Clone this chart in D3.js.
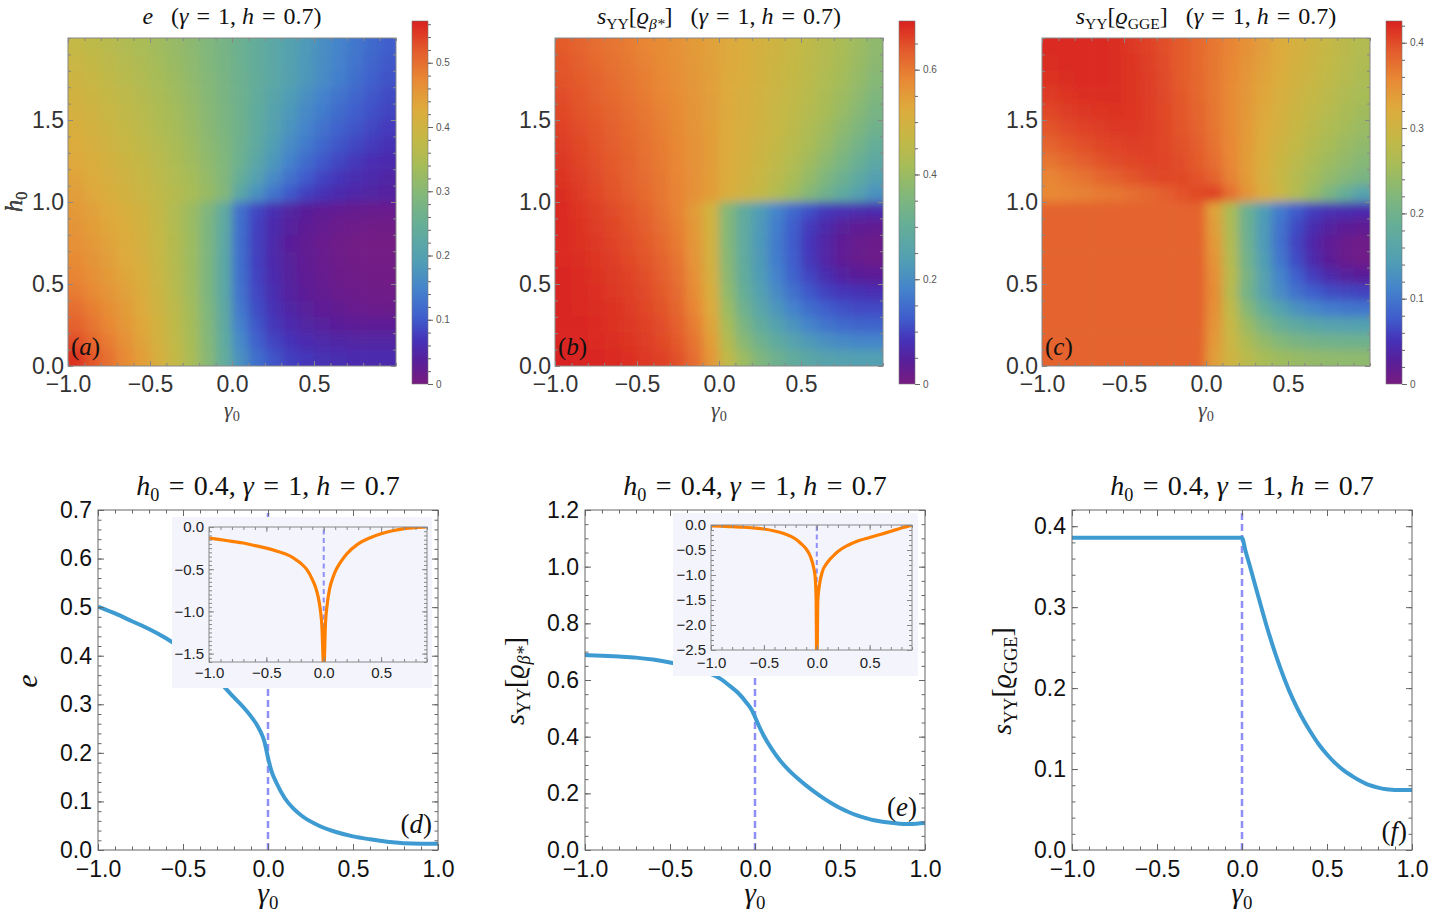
<!DOCTYPE html>
<html>
<head>
<meta charset="utf-8">
<script src="https://d3js.org/d3.v7.min.js"></script>
<style>
  body { margin: 0; background: #fff; }
  svg { display: block; }
</style>
</head>
<body>
<svg id="fig" width="1432" height="918"></svg>
<script>

// ---- heat map grids: cell centres (gamma0 left->right, h0 top->bottom) ----
const gammaCells = [-0.95,-0.85,-0.75,-0.65,-0.55,-0.45,-0.35,-0.25,-0.15,-0.05,0.05,0.15,0.25,0.35,0.45,0.55,0.65,0.75,0.85,0.95];
const hCells = [1.95,1.85,1.75,1.65,1.55,1.45,1.35,1.25,1.15,1.05,0.95,0.85,0.75,0.65,0.55,0.45,0.35,0.25,0.15,0.05];

// (a) e
const gridA = [
  [0.382,0.373,0.364,0.354,0.344,0.333,0.320,0.307,0.292,0.276,0.258,0.240,0.221,0.202,0.184,0.166,0.149,0.133,0.118,0.104],
  [0.389,0.380,0.370,0.360,0.349,0.337,0.324,0.310,0.294,0.277,0.259,0.240,0.221,0.202,0.183,0.164,0.146,0.129,0.113,0.099],
  [0.396,0.386,0.376,0.365,0.354,0.341,0.328,0.313,0.297,0.279,0.260,0.241,0.221,0.201,0.181,0.161,0.142,0.124,0.108,0.094],
  [0.403,0.393,0.382,0.371,0.359,0.346,0.332,0.316,0.299,0.281,0.262,0.239,0.214,0.190,0.168,0.147,0.129,0.113,0.099,0.088],
  [0.410,0.399,0.388,0.376,0.364,0.350,0.336,0.320,0.302,0.283,0.262,0.236,0.208,0.182,0.159,0.138,0.120,0.105,0.093,0.083],
  [0.417,0.406,0.394,0.382,0.369,0.355,0.340,0.324,0.305,0.286,0.263,0.233,0.202,0.174,0.149,0.127,0.109,0.095,0.084,0.075],
  [0.424,0.412,0.400,0.388,0.375,0.361,0.345,0.328,0.309,0.289,0.262,0.228,0.193,0.162,0.136,0.114,0.097,0.084,0.074,0.066],
  [0.431,0.419,0.407,0.394,0.380,0.366,0.350,0.333,0.313,0.292,0.258,0.218,0.180,0.147,0.120,0.099,0.084,0.072,0.063,0.057],
  [0.438,0.426,0.413,0.400,0.386,0.371,0.355,0.338,0.318,0.294,0.245,0.200,0.160,0.127,0.102,0.083,0.070,0.060,0.053,0.048],
  [0.445,0.432,0.419,0.405,0.391,0.376,0.360,0.343,0.323,0.295,0.220,0.170,0.130,0.100,0.080,0.066,0.057,0.050,0.045,0.042],
  [0.452,0.441,0.429,0.417,0.402,0.379,0.354,0.326,0.290,0.232,0.125,0.085,0.060,0.045,0.035,0.028,0.023,0.020,0.018,0.017],
  [0.458,0.446,0.434,0.421,0.405,0.381,0.355,0.326,0.288,0.228,0.122,0.080,0.056,0.040,0.030,0.022,0.016,0.012,0.010,0.009],
  [0.464,0.452,0.439,0.425,0.409,0.384,0.357,0.327,0.287,0.225,0.121,0.078,0.053,0.036,0.025,0.017,0.011,0.007,0.005,0.005],
  [0.471,0.458,0.444,0.430,0.413,0.387,0.359,0.328,0.287,0.223,0.122,0.079,0.054,0.037,0.026,0.018,0.012,0.008,0.006,0.006],
  [0.478,0.464,0.450,0.435,0.417,0.390,0.361,0.329,0.287,0.222,0.124,0.081,0.056,0.039,0.028,0.020,0.014,0.010,0.008,0.008],
  [0.487,0.472,0.457,0.441,0.422,0.394,0.364,0.331,0.288,0.223,0.127,0.084,0.059,0.042,0.031,0.023,0.017,0.013,0.011,0.010],
  [0.500,0.484,0.467,0.449,0.428,0.400,0.370,0.335,0.292,0.227,0.134,0.090,0.065,0.048,0.037,0.029,0.023,0.019,0.016,0.015],
  [0.512,0.494,0.475,0.455,0.433,0.404,0.373,0.338,0.295,0.231,0.143,0.097,0.072,0.056,0.046,0.039,0.034,0.031,0.030,0.030],
  [0.530,0.507,0.485,0.463,0.439,0.409,0.377,0.341,0.298,0.236,0.156,0.108,0.083,0.068,0.058,0.052,0.048,0.046,0.045,0.045],
  [0.552,0.522,0.496,0.471,0.446,0.415,0.381,0.344,0.301,0.241,0.170,0.122,0.095,0.080,0.070,0.064,0.060,0.058,0.057,0.057]
];

// (b) s_YY[rho_beta*]
const gridB = [
  [0.635,0.625,0.615,0.605,0.595,0.585,0.575,0.565,0.553,0.542,0.528,0.515,0.502,0.488,0.473,0.457,0.440,0.422,0.402,0.380],
  [0.640,0.630,0.620,0.610,0.600,0.589,0.578,0.567,0.555,0.543,0.528,0.514,0.500,0.485,0.470,0.454,0.437,0.418,0.397,0.375],
  [0.645,0.635,0.625,0.615,0.604,0.593,0.582,0.570,0.557,0.544,0.527,0.513,0.498,0.483,0.467,0.450,0.432,0.412,0.390,0.367],
  [0.650,0.640,0.630,0.620,0.609,0.597,0.585,0.572,0.559,0.545,0.526,0.511,0.496,0.480,0.463,0.445,0.426,0.404,0.380,0.355],
  [0.655,0.645,0.635,0.624,0.613,0.601,0.589,0.575,0.561,0.546,0.525,0.510,0.494,0.477,0.459,0.440,0.418,0.394,0.368,0.340],
  [0.660,0.650,0.640,0.629,0.617,0.605,0.592,0.578,0.563,0.547,0.524,0.508,0.491,0.473,0.453,0.432,0.408,0.381,0.352,0.322],
  [0.665,0.655,0.644,0.633,0.621,0.609,0.595,0.581,0.565,0.548,0.523,0.506,0.488,0.468,0.446,0.422,0.395,0.365,0.333,0.300],
  [0.670,0.659,0.648,0.637,0.625,0.612,0.598,0.583,0.566,0.548,0.521,0.503,0.483,0.461,0.436,0.408,0.378,0.345,0.310,0.275],
  [0.675,0.664,0.652,0.640,0.628,0.615,0.600,0.585,0.567,0.548,0.519,0.499,0.476,0.451,0.422,0.390,0.355,0.318,0.281,0.245],
  [0.680,0.668,0.656,0.644,0.631,0.617,0.602,0.586,0.568,0.548,0.515,0.492,0.466,0.436,0.402,0.365,0.326,0.287,0.249,0.210],
  [0.682,0.673,0.663,0.652,0.640,0.625,0.608,0.587,0.551,0.496,0.365,0.290,0.232,0.184,0.143,0.112,0.090,0.078,0.072,0.070],
  [0.683,0.676,0.667,0.657,0.645,0.631,0.614,0.592,0.554,0.496,0.365,0.285,0.225,0.173,0.128,0.092,0.065,0.046,0.034,0.030],
  [0.684,0.678,0.670,0.661,0.650,0.637,0.620,0.598,0.558,0.498,0.365,0.285,0.224,0.170,0.124,0.087,0.058,0.036,0.022,0.017],
  [0.685,0.680,0.673,0.665,0.655,0.643,0.626,0.604,0.563,0.502,0.370,0.288,0.226,0.172,0.126,0.088,0.058,0.036,0.022,0.016],
  [0.686,0.682,0.676,0.669,0.660,0.648,0.632,0.610,0.569,0.508,0.375,0.293,0.232,0.180,0.136,0.101,0.074,0.055,0.044,0.040],
  [0.687,0.683,0.679,0.672,0.664,0.653,0.637,0.616,0.576,0.516,0.385,0.305,0.246,0.196,0.154,0.122,0.100,0.086,0.079,0.077],
  [0.688,0.685,0.681,0.676,0.668,0.657,0.643,0.622,0.585,0.526,0.400,0.322,0.266,0.220,0.180,0.150,0.128,0.114,0.107,0.105],
  [0.689,0.687,0.683,0.678,0.671,0.662,0.649,0.630,0.595,0.537,0.420,0.345,0.292,0.250,0.213,0.183,0.160,0.145,0.137,0.135],
  [0.689,0.688,0.685,0.681,0.675,0.667,0.655,0.638,0.605,0.548,0.440,0.370,0.322,0.285,0.252,0.226,0.206,0.193,0.186,0.184],
  [0.690,0.689,0.687,0.684,0.679,0.672,0.662,0.646,0.615,0.560,0.460,0.400,0.355,0.320,0.292,0.270,0.255,0.245,0.240,0.238]
];

// (c) s_YY[rho_GGE]
const gridC = [
  [0.420,0.421,0.421,0.420,0.417,0.412,0.406,0.398,0.390,0.380,0.370,0.360,0.348,0.335,0.322,0.310,0.298,0.287,0.277,0.268],
  [0.418,0.420,0.421,0.420,0.418,0.413,0.407,0.399,0.390,0.380,0.369,0.358,0.345,0.333,0.320,0.308,0.296,0.285,0.275,0.265],
  [0.415,0.418,0.420,0.420,0.418,0.414,0.408,0.400,0.391,0.381,0.369,0.356,0.343,0.330,0.317,0.305,0.293,0.282,0.271,0.262],
  [0.410,0.414,0.417,0.418,0.417,0.414,0.409,0.401,0.392,0.382,0.369,0.355,0.341,0.327,0.313,0.300,0.288,0.277,0.266,0.257],
  [0.403,0.408,0.412,0.414,0.415,0.413,0.409,0.402,0.393,0.383,0.370,0.355,0.340,0.325,0.310,0.296,0.283,0.271,0.260,0.251],
  [0.395,0.401,0.406,0.409,0.411,0.411,0.408,0.403,0.395,0.385,0.371,0.355,0.339,0.322,0.306,0.291,0.277,0.265,0.254,0.244],
  [0.385,0.392,0.398,0.403,0.406,0.408,0.407,0.403,0.397,0.388,0.373,0.356,0.338,0.319,0.301,0.285,0.270,0.257,0.245,0.235],
  [0.372,0.380,0.388,0.395,0.400,0.403,0.405,0.404,0.399,0.391,0.377,0.358,0.337,0.316,0.296,0.278,0.262,0.248,0.236,0.225],
  [0.360,0.366,0.373,0.381,0.388,0.395,0.400,0.403,0.402,0.396,0.385,0.362,0.338,0.313,0.291,0.271,0.253,0.237,0.223,0.211],
  [0.356,0.359,0.362,0.366,0.370,0.375,0.381,0.388,0.396,0.402,0.405,0.375,0.345,0.318,0.293,0.268,0.242,0.214,0.185,0.155],
  [0.385,0.385,0.385,0.385,0.385,0.385,0.385,0.385,0.385,0.385,0.330,0.260,0.195,0.143,0.104,0.076,0.058,0.048,0.045,0.044],
  [0.385,0.385,0.385,0.385,0.385,0.385,0.385,0.385,0.385,0.385,0.335,0.262,0.195,0.140,0.097,0.066,0.045,0.032,0.024,0.020],
  [0.385,0.385,0.385,0.385,0.385,0.385,0.385,0.385,0.385,0.385,0.340,0.266,0.197,0.140,0.095,0.062,0.038,0.022,0.012,0.008],
  [0.385,0.385,0.385,0.385,0.385,0.385,0.385,0.385,0.385,0.385,0.345,0.270,0.202,0.145,0.100,0.066,0.041,0.024,0.013,0.008],
  [0.385,0.385,0.385,0.385,0.385,0.385,0.385,0.385,0.385,0.385,0.350,0.275,0.210,0.155,0.112,0.080,0.057,0.041,0.031,0.027],
  [0.385,0.385,0.385,0.385,0.385,0.385,0.385,0.385,0.385,0.385,0.352,0.272,0.205,0.155,0.120,0.095,0.078,0.068,0.063,0.061],
  [0.385,0.385,0.385,0.385,0.385,0.385,0.385,0.385,0.385,0.385,0.350,0.282,0.225,0.183,0.152,0.130,0.115,0.105,0.100,0.098],
  [0.385,0.385,0.385,0.385,0.385,0.385,0.385,0.385,0.385,0.385,0.345,0.290,0.245,0.212,0.188,0.172,0.161,0.154,0.150,0.149],
  [0.385,0.385,0.385,0.385,0.385,0.385,0.385,0.385,0.385,0.385,0.340,0.295,0.262,0.238,0.222,0.211,0.204,0.200,0.198,0.197],
  [0.385,0.385,0.385,0.385,0.385,0.385,0.385,0.385,0.385,0.385,0.335,0.300,0.275,0.258,0.248,0.242,0.238,0.235,0.234,0.234]
];

// colour bar labels
const cbTicksA = [0, 0.1, 0.2, 0.3, 0.4, 0.5];
const cbTicksB = [0, 0.2, 0.4, 0.6];
const cbTicksC = [0, 0.1, 0.2, 0.3, 0.4];

// ---- curves at h0 = 0.4 ----
const gammaD = [-1,-0.9,-0.8,-0.7,-0.6,-0.5,-0.4,-0.3,-0.2,-0.15,-0.1,-0.05,-0.02,0,0.02,0.05,0.1,0.15,0.2,0.3,0.4,0.5,0.6,0.7,0.8,0.9,1];
const eD =     [0.501,0.487,0.471,0.455,0.436,0.413,0.386,0.352,0.314,0.296,0.275,0.248,0.222,0.19,0.163,0.138,0.106,0.085,0.07,0.05,0.037,0.028,0.022,0.017,0.014,0.013,0.013];

const gammaE = [-1,-0.9,-0.8,-0.7,-0.6,-0.5,-0.4,-0.3,-0.2,-0.15,-0.1,-0.05,-0.02,0,0.02,0.05,0.1,0.15,0.2,0.25,0.3,0.35,0.4,0.45,0.5,0.55,0.6,0.65,0.7,0.75,0.8,0.85,0.9,0.95,1];
const sE =     [0.688,0.686,0.683,0.679,0.672,0.662,0.648,0.63,0.603,0.58,0.555,0.52,0.495,0.47,0.442,0.405,0.355,0.314,0.281,0.253,0.228,0.205,0.184,0.165,0.148,0.134,0.122,0.113,0.105,0.1,0.096,0.093,0.092,0.093,0.095];

const gammaF = [-1,0,0.02,0.05,0.1,0.15,0.2,0.25,0.3,0.35,0.4,0.45,0.5,0.55,0.6,0.65,0.7,0.75,0.8,0.85,0.9,0.95,1];
const sF =     [0.3856,0.3856,0.37,0.348,0.31,0.273,0.24,0.211,0.186,0.165,0.147,0.131,0.118,0.107,0.098,0.091,0.085,0.08,0.077,0.075,0.074,0.074,0.074];

// insets (orange)
const gammaInD = [-1,-0.9,-0.8,-0.7,-0.6,-0.5,-0.4,-0.3,-0.25,-0.2,-0.15,-0.1,-0.07,-0.05,-0.03,-0.015,-0.005,0,0.005,0.015,0.03,0.05,0.08,0.1,0.15,0.2,0.3,0.4,0.5,0.6,0.7,0.8,0.9];
const inD =      [-0.13,-0.15,-0.17,-0.19,-0.22,-0.25,-0.29,-0.34,-0.38,-0.43,-0.5,-0.62,-0.72,-0.82,-0.98,-1.2,-1.6,-1.8,-1.6,-1.15,-0.92,-0.74,-0.6,-0.53,-0.41,-0.32,-0.2,-0.13,-0.08,-0.045,-0.02,-0.007,0];

const gammaInE = [-1,-0.9,-0.8,-0.7,-0.6,-0.5,-0.4,-0.3,-0.2,-0.15,-0.1,-0.06,-0.03,-0.015,-0.006,-0.002,0,0.003,0.01,0.025,0.05,0.1,0.15,0.2,0.3,0.4,0.5,0.6,0.7,0.8,0.9];
const inE =      [-0.02,-0.025,-0.035,-0.045,-0.06,-0.08,-0.12,-0.18,-0.28,-0.37,-0.48,-0.63,-0.85,-1.05,-1.5,-2.6,-2.7,-2.6,-1.5,-1.2,-0.95,-0.75,-0.63,-0.53,-0.4,-0.31,-0.25,-0.19,-0.125,-0.06,0];

// colour map (Mathematica "Rainbow"-like)
const rainbowPos = [0, 0.06, 0.12, 0.18, 0.26, 0.34, 0.44, 0.52, 0.60, 0.68, 0.76, 0.84, 0.92, 1];
const rainbowCol = ['#781c81','#5a1e98','#4532b8','#3f5ccc','#4483cc','#519fb4','#66ae96','#82b77a','#a6bc58','#c6b845','#deaa3c','#e88835','#e35a2c','#d92120'];

const SANS = '"Liberation Sans", Arial, sans-serif';
const SERIF = '"Liberation Serif", "Times New Roman", "DejaVu Serif", serif';
const fmt1 = d3.format('.1f');
const EQ = '\u2004=\u2004';

const svg = d3.select('#fig');
const defs = svg.append('defs');

defs.append('filter').attr('id', 'soften')
    .attr('x', '-10%').attr('y', '-10%').attr('width', '120%').attr('height', '120%')
  .append('feGaussianBlur').attr('stdDeviation', 5);

const grad = defs.append('linearGradient').attr('id', 'rainbow')
  .attr('x1', 0).attr('y1', 1).attr('x2', 0).attr('y2', 0);
rainbowPos.forEach((t, i) => grad.append('stop').attr('offset', t).attr('stop-color', rainbowCol[i]));

// text with italic / subscript pieces
function rich(sel, parts, size) {
  let shift = 0;
  parts.forEach(([s, k]) => {
    const sub = k === 's' || k === 'si';
    const target = sub ? size * 0.2 : 0;
    sel.append('tspan')
      .attr('dy', (target - shift).toFixed(2))
      .attr('font-size', sub ? size * 0.65 : size)
      .attr('font-style', (k === 'i' || k === 'si') ? 'italic' : 'normal')
      .text(s);
    shift = target;
  });
  return sel;
}
function label(x, y, parts, size, opt = {}) {
  const t = svg.append('text')
    .attr('transform', `translate(${x},${y})${opt.rotate ? ' rotate(-90)' : ''}`)
    .attr('text-anchor', opt.anchor || 'middle')
    .attr('font-family', SERIF)
    .attr('fill', opt.fill || '#111');
  rich(t, parts, size);
}

// frame with inward ticks on all four sides
function drawFrame(x, y, o) {
  const [xa, xb] = x.range(), [ya, yb] = y.range();
  const g = svg.append('g').attr('color', o.color);
  const none = () => '';
  const ax = (axis, tx, ty) => {
    const a = g.append('g').attr('transform', `translate(${tx},${ty})`).call(axis);
    a.select('.domain').remove();
    a.attr('font-size', o.font).attr('font-family', SANS);
    a.selectAll('text').attr('fill', o.textColor);
  };
  ax(d3.axisBottom(x).tickValues(o.xMinor).tickSize(-o.minorLen).tickFormat(none), 0, ya);
  ax(d3.axisTop(x).tickValues(o.xMinor).tickSize(-o.minorLen).tickFormat(none), 0, yb);
  ax(d3.axisLeft(y).tickValues(o.yMinor).tickSize(-o.minorLen).tickFormat(none), xa, 0);
  ax(d3.axisRight(y).tickValues(o.yMinor).tickSize(-o.minorLen).tickFormat(none), xb, 0);
  ax(d3.axisBottom(x).tickValues(o.xMajor).tickSize(-o.majorLen).tickPadding(o.xPad).tickFormat(fmt1), 0, ya);
  ax(d3.axisTop(x).tickValues(o.xMajor).tickSize(-o.majorLen).tickFormat(none), 0, yb);
  ax(d3.axisLeft(y).tickValues(o.yMajor).tickSize(-o.majorLen).tickPadding(o.yPad).tickFormat(fmt1), xa, 0);
  ax(d3.axisRight(y).tickValues(o.yMajor).tickSize(-o.majorLen).tickFormat(none), xb, 0);
  g.append('rect').attr('x', xa).attr('y', yb).attr('width', xb - xa).attr('height', ya - yb)
    .attr('fill', 'none').attr('stroke', o.color).attr('stroke-width', 1);
}

// ---------------- top row: heat maps ----------------
const tailTitle = [['\u00a0\u00a0\u00a0(', 'r'], ['γ', 'i'], [EQ + '1, ', 'r'], ['h', 'i'], [EQ + '0.7)', 'r']];
const heatPanels = [
  { id: 'a', left: 68, grid: gridA, vmax: 0.565, cbLeft: 412, cbMajor: cbTicksA, cbStep: 0.02,
    title: [['e', 'i'], ...tailTitle] },
  { id: 'b', left: 555, grid: gridB, vmax: 0.693, cbLeft: 899, cbMajor: cbTicksB, cbStep: 0.05,
    title: [['s', 'i'], ['YY', 's'], ['[', 'r'], ['ϱ', 'i'], ['β*', 'si'], [']', 'r'], ...tailTitle] },
  { id: 'c', left: 1042, grid: gridC, vmax: 0.4255, cbLeft: 1386, cbMajor: cbTicksC, cbStep: 0.02,
    title: [['s', 'i'], ['YY', 's'], ['[', 'r'], ['ϱ', 'i'], ['GGE', 's'], [']', 'r'], ...tailTitle] }
];

heatPanels.forEach(p => {
  const x = d3.scaleLinear([-1, 1], [p.left, p.left + 328]);
  const y = d3.scaleLinear([0, 2], [366, 38]);
  const color = d3.scaleLinear(rainbowPos.map(t => t * p.vmax), rainbowCol).clamp(true);
  const nr = p.grid.length, nc = gammaCells.length, half = 0.05, pad = 22;
  const cells = p.grid.flatMap((row, i) => row.map((v, j) => ({ g: gammaCells[j], h: hCells[i], v, i, j })));

  defs.append('clipPath').attr('id', 'clip-' + p.id).append('rect')
    .attr('x', x(-1)).attr('y', y(2)).attr('width', x(1) - x(-1)).attr('height', y(0) - y(2));

  svg.append('g').attr('clip-path', `url(#clip-${p.id})`)
    .append('g').attr('filter', 'url(#soften)')
    .selectAll('rect').data(cells).join('rect')
      .attr('x', d => x(d.g - half) - (d.j === 0 ? pad : 0))
      .attr('y', d => y(d.h + half) - (d.i === 0 ? pad : 0))
      .attr('width', d => x(d.g + half) - x(d.g - half) + 0.6 + (d.j === 0 || d.j === nc - 1 ? pad : 0))
      .attr('height', d => y(d.h - half) - y(d.h + half) + 0.6 + (d.i === 0 || d.i === nr - 1 ? pad : 0))
      .attr('fill', d => color(d.v));

  drawFrame(x, y, {
    color: '#888', textColor: '#333', font: 23,
    xMajor: [-1, -0.5, 0, 0.5], yMajor: [0, 0.5, 1, 1.5],
    xMinor: d3.ticks(-1, 1, 20), yMinor: d3.ticks(0, 2, 20),
    majorLen: 5, minorLen: 3, xPad: 10, yPad: 4
  });

  // colour bar
  const cb = d3.scaleLinear([0, p.vmax], [384, 21]);
  svg.append('rect').attr('x', p.cbLeft).attr('y', cb(p.vmax)).attr('width', 16).attr('height', cb(0) - cb(p.vmax))
    .attr('fill', 'url(#rainbow)').attr('stroke', '#777').attr('stroke-width', 0.6);
  const cbg = svg.append('g').attr('transform', `translate(${p.cbLeft + 16},0)`).attr('color', '#666');
  cbg.append('g').call(d3.axisRight(cb).tickValues(d3.range(0, p.vmax, p.cbStep)).tickSize(3).tickFormat(() => ''))
    .call(s => s.select('.domain').remove());
  cbg.append('g').call(d3.axisRight(cb).tickValues(p.cbMajor).tickSize(5).tickPadding(3)
      .tickFormat(d => d === 0 ? '0' : fmt1(d)))
    .call(s => s.select('.domain').remove())
    .attr('font-family', SANS).attr('font-size', 10)
    .call(s => s.selectAll('text').attr('fill', '#555'));

  label(x(0), 24, p.title, 24);
  label(p.left + 3, 355, [['(', 'r'], [p.id, 'i'], [')', 'r']], 25, { anchor: 'start' });
  label(x(0), 417, [['γ', 'i'], ['0', 's']], 22, { fill: '#444' });
  label(22, 202, [['h', 'i'], ['0', 's']], 25, { rotate: true, fill: '#444' });
});

// ---------------- bottom row: curves ----------------
const linePanels = [
  { id: 'd', left: 98, ymax: 0.7, yMajor: [0, 0.1, 0.2, 0.3, 0.4, 0.5, 0.6, 0.7], yMinor: d3.ticks(0, 0.7, 35),
    gx: gammaD, gy: eD, tag: [432, 833], ylab: [[['e', 'i']], 37, 30],
    inset: { bg: [172, 517, 432, 688], fr: [209, 427, 527, 662], ymin: -1.6, yMajor: [0, -0.5, -1, -1.5],
             gx: gammaInD, gy: inD, xPad: 5 } },
  { id: 'e', left: 585, ymax: 1.2, yMajor: [0, 0.2, 0.4, 0.6, 0.8, 1.0, 1.2], yMinor: d3.ticks(0, 1.2, 24),
    gx: gammaE, gy: sE, tag: [917, 816],
    ylab: [[['s', 'i'], ['YY', 's'], ['[', 'r'], ['ϱ', 'i'], ['β*', 'si'], [']', 'r']], 524, 28],
    inset: { bg: [673, 513, 918, 676], fr: [711, 912, 525, 650], ymin: -2.5, yMajor: [0, -0.5, -1, -1.5, -2, -2.5],
             gx: gammaInE, gy: inE, xPad: 7 } },
  { id: 'f', left: 1072, ymax: 0.42, yMajor: [0, 0.1, 0.2, 0.3, 0.4], yMinor: d3.ticks(0, 0.42, 21),
    gx: gammaF, gy: sF, tag: [1407, 840],
    ylab: [[['s', 'i'], ['YY', 's'], ['[', 'r'], ['ϱ', 'i'], ['GGE', 's'], [']', 'r']], 1011, 28] }
];

const dashColor = '#8f8ff8';

linePanels.forEach(p => {
  const x = d3.scaleLinear([-1, 1], [p.left, p.left + 340]);
  const y = d3.scaleLinear([0, p.ymax], [850, 510]);

  defs.append('clipPath').attr('id', 'clip-' + p.id).append('rect')
    .attr('x', x(-1)).attr('y', y(p.ymax)).attr('width', 340).attr('height', 340);

  const plot = svg.append('g').attr('clip-path', `url(#clip-${p.id})`);
  plot.append('line').attr('x1', x(0)).attr('x2', x(0)).attr('y1', y(0)).attr('y2', y(p.ymax))
    .attr('stroke', dashColor).attr('stroke-width', 2.5).attr('stroke-dasharray', '7,4');
  plot.append('path').datum(p.gx.map((g, i) => [g, p.gy[i]]))
    .attr('fill', 'none').attr('stroke', '#3e9bd2').attr('stroke-width', 4).attr('stroke-linejoin', 'round')
    .attr('d', d3.line().x(d => x(d[0])).y(d => y(d[1])).curve(d3.curveMonotoneX));

  drawFrame(x, y, {
    color: '#666', textColor: '#111', font: 23,
    xMajor: [-1, -0.5, 0, 0.5, 1], yMajor: p.yMajor,
    xMinor: d3.ticks(-1, 1, 20), yMinor: p.yMinor,
    majorLen: 6, minorLen: 3.5, xPad: 11, yPad: 6
  });

  if (p.inset) {
    const q = p.inset;
    svg.append('rect').attr('x', q.bg[0]).attr('y', q.bg[1]).attr('width', q.bg[2] - q.bg[0]).attr('height', q.bg[3] - q.bg[1])
      .attr('fill', '#f4f4fd');
    const ix = d3.scaleLinear([-1, 0.9], [q.fr[0], q.fr[1]]);
    const iy = d3.scaleLinear([q.ymin, 0], [q.fr[3], q.fr[2]]);
    defs.append('clipPath').attr('id', 'clip-in-' + p.id).append('rect')
      .attr('x', q.fr[0]).attr('y', q.fr[2]).attr('width', q.fr[1] - q.fr[0]).attr('height', q.fr[3] - q.fr[2]);
    const ip = svg.append('g').attr('clip-path', `url(#clip-in-${p.id})`);
    ip.append('line').attr('x1', ix(0)).attr('x2', ix(0)).attr('y1', iy(q.ymin)).attr('y2', iy(0))
      .attr('stroke', dashColor).attr('stroke-width', 2).attr('stroke-dasharray', '5,3.5');
    ip.append('path').datum(q.gx.map((g, i) => [g, q.gy[i]]))
      .attr('fill', 'none').attr('stroke', '#ff8000').attr('stroke-width', 3.2).attr('stroke-linejoin', 'round')
      .attr('d', d3.line().x(d => ix(d[0])).y(d => iy(d[1])).curve(d3.curveMonotoneX));
    drawFrame(ix, iy, {
      color: '#888', textColor: '#222', font: 15,
      xMajor: [-1, -0.5, 0, 0.5], yMajor: q.yMajor,
      xMinor: d3.ticks(-1, 0.9, 19), yMinor: d3.ticks(q.ymin, 0, 25),
      majorLen: 5, minorLen: 3, xPad: q.xPad, yPad: 5
    });
  }

  label(x(0), 495, [['h', 'i'], ['0', 's'], [EQ + '0.4, ', 'r'], ['γ', 'i'], [EQ + '1, ', 'r'], ['h', 'i'], [EQ + '0.7', 'r']], 28);
  label(x(0), 903, [['γ', 'i'], ['0', 's']], 29);
  label(p.ylab[1], 681, p.ylab[0], p.ylab[2], { rotate: true });
  label(p.tag[0], p.tag[1], [['(', 'r'], [p.id, 'i'], [')', 'r']], 27, { anchor: 'end' });
});

</script>
</body>
</html>
